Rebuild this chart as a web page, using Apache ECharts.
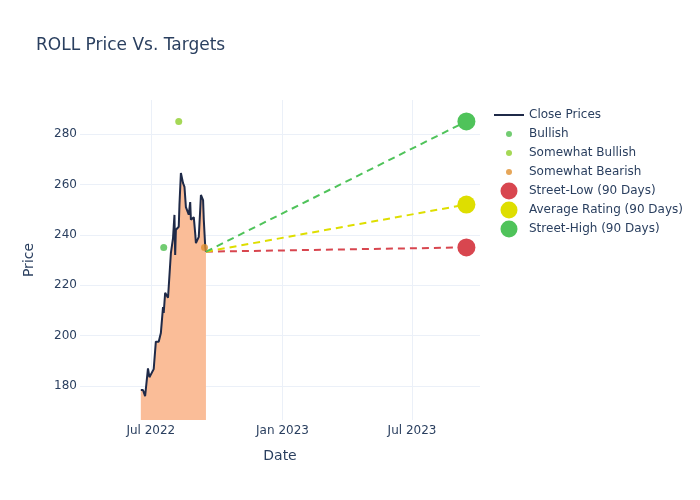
<!DOCTYPE html>
<html>
<head>
<meta charset="utf-8">
<script src="https://cdn.jsdelivr.net/npm/echarts@6/dist/echarts.min.js"></script>
<style>
  html, body { margin: 0; padding: 0; background: #fff; }
  #chart { width: 700px; height: 500px; }
</style>
</head>
<body>
<div id="chart"></div>
<script>
const priceDates = [
  '2022-06-17', '2022-06-20', '2022-06-23', '2022-06-27', '2022-06-29', '2022-07-05',
  '2022-07-06', '2022-07-08', '2022-07-12', '2022-07-15', '2022-07-18', '2022-07-19',
  '2022-07-21', '2022-07-25', '2022-07-27', '2022-07-29', '2022-08-01', '2022-08-03',
  '2022-08-04', '2022-08-05', '2022-08-09', '2022-08-10', '2022-08-12', '2022-08-15',
  '2022-08-17', '2022-08-19', '2022-08-23', '2022-08-25', '2022-08-26', '2022-08-30',
  '2022-09-01', '2022-09-02', '2022-09-06', '2022-09-08', '2022-09-09', '2022-09-12',
  '2022-09-13', '2022-09-15', '2022-09-16'
]
const closePrices = [
  178.4, 178.4, 176.0, 187.0, 183.5, 186.7,
  187.0, 197.6, 197.6, 201.0, 211.3, 209.0,
  217.0, 215.0, 215.0, 232.7, 238.7, 247.9,
  232.0, 242.0, 243.2, 252.0, 264.5, 260.5,
  259.0, 251.0, 248.0, 253.0, 246.0, 247.0,
  240.6, 236.7, 239.2, 250.0, 255.8, 253.8,
  246.0, 235.3, 233.3
]

const bullish = [['2022-07-19', 235]]
const somewhatBullish = [['2022-08-09', 285]]
const somewhatBearish = [['2022-09-14', 235]]

const targetDate = '2023-09-15'
const streetLow = 235
const averageRating = 252
const streetHigh = 285

const xTicks = ['2022-07-01', '2023-01-01', '2023-07-01']
const yTicks = [180, 200, 220, 240, 260, 280]

const MONTHS = ['Jan', 'Feb', 'Mar', 'Apr', 'May', 'Jun', 'Jul', 'Aug', 'Sep', 'Oct', 'Nov', 'Dec']
const FONT = 'DejaVu Sans'
const TEXT = '#2a3f5f'
const GRID = '#ebf0f8'

const ts = (d) => +echarts.time.parse(d)

// legend icons: a shape inside a fixed 30x18 box so sizes differ per item
const lineIcon = 'path://M0 0M30 18M0 8h30v2h-30Z'
const dot = (r) => `path://M0 0M30 18M${15 - r} 9a${r} ${r} 0 1 0 ${2 * r} 0a${r} ${r} 0 1 0 ${-2 * r} 0Z`

const chart = echarts.init(document.getElementById('chart'))

const lastDate = priceDates[priceDates.length - 1]
const lastPrice = closePrices[closePrices.length - 1]

function targetSeries(name, value, color) {
  return {
    name,
    type: 'line',
    data: [[ts(lastDate), lastPrice], [ts(targetDate), value]],
    symbol: 'circle',
    symbolSize: (v, p) => (p.dataIndex === 1 ? 18 : 0),
    showSymbol: true,
    itemStyle: { color },
    lineStyle: { color, width: 2, type: [7, 5] },
    z: 3
  }
}

function ratingSeries(name, data, color) {
  return {
    name,
    type: 'scatter',
    data: data.map(([d, v]) => [ts(d), v]),
    symbolSize: 7,
    itemStyle: { color },
    z: 4
  }
}

chart.setOption({
  backgroundColor: '#fff',
  animation: false,
  title: {
    text: 'ROLL Price Vs. Targets',
    left: 31,
    top: 32,
    textStyle: { fontFamily: FONT, fontSize: 17, fontWeight: 'normal', color: TEXT }
  },
  legend: {
    orient: 'vertical',
    left: 489,
    top: 101,
    itemWidth: 30,
    itemHeight: 18,
    itemGap: 1,
    textStyle: { fontFamily: FONT, fontSize: 12, color: TEXT },
    data: [
      { name: 'Close Prices', icon: lineIcon },
      { name: 'Bullish', icon: dot(3) },
      { name: 'Somewhat Bullish', icon: dot(3) },
      { name: 'Somewhat Bearish', icon: dot(3) },
      { name: 'Street-Low (90 Days)', icon: dot(8.5) },
      { name: 'Average Rating (90 Days)', icon: dot(8.5) },
      { name: 'Street-High (90 Days)', icon: dot(8.5) }
    ]
  },
  grid: { left: 80, right: 220, top: 100, bottom: 80 },
  xAxis: {
    type: 'value',
    min: ts('2022-03-24'),
    max: ts('2023-10-04'),
    name: 'Date',
    nameLocation: 'middle',
    nameGap: 29,
    nameTextStyle: { fontFamily: FONT, fontSize: 14, color: TEXT },
    axisLine: { show: false },
    axisTick: { show: false, customValues: xTicks.map(ts) },
    axisLabel: {
      customValues: xTicks.map(ts),
      margin: 5,
      fontFamily: FONT,
      fontSize: 12,
      color: TEXT,
      formatter: (v) => {
        const d = new Date(v)
        return `${MONTHS[d.getMonth()]} ${d.getFullYear()}`
      }
    },
    splitLine: { show: true, lineStyle: { color: GRID, width: 1 } }
  },
  yAxis: {
    type: 'value',
    min: 166.5,
    max: 293.5,
    name: 'Price',
    nameLocation: 'middle',
    nameGap: 44,
    nameTextStyle: { fontFamily: FONT, fontSize: 14, color: TEXT },
    axisLine: { show: false },
    axisTick: { show: false, customValues: yTicks },
    axisLabel: { customValues: yTicks, margin: 3, fontFamily: FONT, fontSize: 12, color: TEXT },
    splitLine: { show: true, lineStyle: { color: GRID, width: 1 } }
  },
  series: [
    {
      name: 'Close Prices',
      type: 'line',
      data: priceDates.map((d, i) => [ts(d), closePrices[i]]),
      showSymbol: false,
      symbol: 'none',
      itemStyle: { color: '#1f2a48' },
      lineStyle: { color: '#1f2a48', width: 2 },
      areaStyle: { color: '#fabd98', opacity: 1, origin: 'start' },
      z: 2
    },
    ratingSeries('Bullish', bullish, '#4fbf4f'),
    ratingSeries('Somewhat Bullish', somewhatBullish, '#8fce2c'),
    ratingSeries('Somewhat Bearish', somewhatBearish, '#e0902f'),
    targetSeries('Street-Low (90 Days)', streetLow, '#d8464f'),
    targetSeries('Average Rating (90 Days)', averageRating, '#dede00'),
    targetSeries('Street-High (90 Days)', streetHigh, '#4fc35a')
  ]
})
</script>
</body>
</html>
